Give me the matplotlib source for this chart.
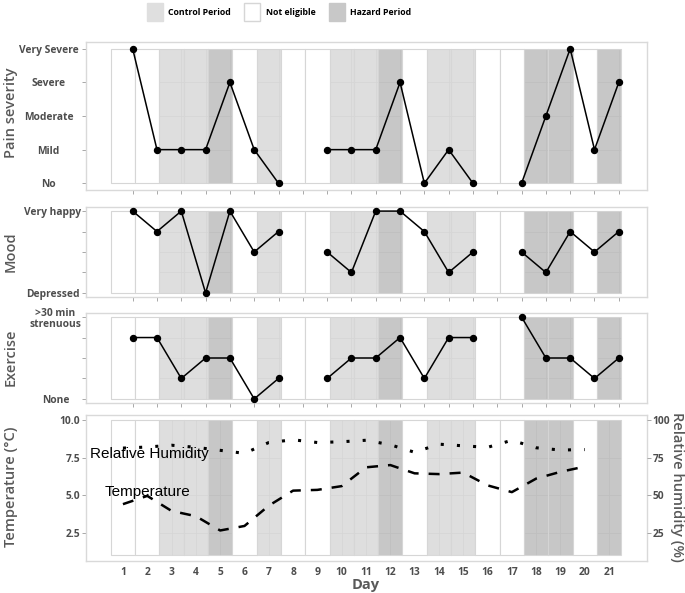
import numpy as np
import matplotlib.pyplot as plt
from matplotlib.patches import Patch, Rectangle

# study days and what kind of period each one was
days = np.arange(1, 22)
period = ["ne", "ne", "ctrl", "ctrl", "haz", "ne", "ctrl", "ne", "ne", "ctrl", "ctrl",
          "haz", "ne", "ctrl", "ctrl", "ne", "ne", "haz", "haz", "ne", "haz"]

# diary scores (0 = lowest level)
pain = [4, 1, 1, 1, 3, 1, 0, np.nan, 1, 1, 1, 3, 0, 1, 0, np.nan, 0, 2, 4, 1, 3]
mood = [4, 3, 4, 0, 4, 2, 3, np.nan, 2, 1, 4, 4, 3, 1, 2, np.nan, 2, 1, 3, 2, 3]
exercise = [3, 3, 1, 2, 2, 0, 1, np.nan, 1, 2, 2, 3, 1, 3, 3, np.nan, 4, 2, 2, 1, 2]

pain_labels = ["No", "Mild", "Moderate", "Severe", "Very Severe"]
mood_labels = ["Depressed", "", "", "", "Very happy"]
exercise_labels = ["None", "", "", "", ">30 min\nstrenuous"]

# daily weather
weather_days = np.arange(1, 21)
temperature = [4.4, 4.95, 3.95, 3.6, 2.65, 2.95, 4.3, 5.3, 5.35, 5.6,
               6.85, 7.0, 6.45, 6.4, 6.5, 5.65, 5.2, 6.1, 6.55, 6.9]
humidity = [81.3, 82.0, 83.2, 81.8, 79.8, 77.8, 85.0, 86.8, 85.0, 85.5,
            86.5, 83.5, 78.5, 83.9, 82.8, 81.8, 86.5, 81.5, 80.0, 80.3]

fills = {"ctrl": "#d9d9d9", "ne": "white", "haz": "#bebebe"}
alphas = {"ctrl": 0.85, "ne": 1.0, "haz": 0.85}

tick_col = "#4d4d4d"
title_col = "#595959"
plt.rcParams["font.family"] = ["Open Sans", "DejaVu Sans"]

fig = plt.figure(figsize=(6.85, 5.93), dpi=100)
W, H = 685, 593


def box(top, bottom):
    return [86 / W, 1 - bottom / H, 561 / W, (bottom - top) / H]


xlim = (-0.52, 22.56)
obs_shift = 0.4  # diary entries sit a bit after the day's midpoint


def shade(ax, y0, y1, xgrid, ygrid):
    # faint grid only inside the shaded block
    ax.vlines(xgrid, y0, y1, color="#c4c4c4", lw=0.6, zorder=0.5)
    ax.hlines(ygrid, 0.5, 21.5, color="#c4c4c4", lw=0.6, zorder=0.5)
    for d, p in zip(days, period):
        ax.add_patch(Rectangle((d - 0.5, y0), 1, y1 - y0, facecolor=fills[p],
                               alpha=alphas[p], edgecolor="#d6d6d6", lw=0.8, zorder=1))


def style(ax):
    for s in ax.spines.values():
        s.set_color("#d9d9d9")
        s.set_linewidth(1.0)
    ax.tick_params(colors="#9a9a9a", labelcolor=tick_col, length=3, width=0.6)


def score_panel(ax, values, labels, title, pad, title_y):
    style(ax)
    shade(ax, 0, 4, days + obs_shift, range(5))
    ax.plot(days + obs_shift, values, color="black", lw=1.1, marker="o", ms=4.3, zorder=3)
    ax.set_xlim(*xlim)
    ax.set_ylim(-0.2, 4.2)
    ax.set_xticks(days + obs_shift)
    ax.set_xticklabels([])
    ax.set_yticks(range(5))
    ax.set_yticklabels(labels, ha="center", fontsize=7.4, fontweight="bold",
                       linespacing=1.0)
    ax.tick_params(axis="y", pad=pad)
    fig.text(11 / W, 1 - title_y / H, title, rotation=90, ha="center", va="center",
             fontsize=10.5, color=title_col, fontweight="semibold")


ax1 = fig.add_axes(box(42, 190))
score_panel(ax1, pain, pain_labels, "Pain severity", 24, 113)
ax2 = fig.add_axes(box(207, 297))
score_panel(ax2, mood, mood_labels, "Mood", 21, 252)
ax3 = fig.add_axes(box(313, 403))
score_panel(ax3, exercise, exercise_labels, "Exercise", 19, 357)

ax4 = fig.add_axes(box(415, 561))
style(ax4)
shade(ax4, 1, 10, days, [2.5, 5.0, 7.5, 10.0])
ax4.plot(weather_days, temperature, color="black", lw=1.8,
         linestyle=(0, (4.4, 4.0)), dash_capstyle="butt", zorder=3)
ax4.plot(weather_days, np.array(humidity) / 10, color="black", lw=2.2,
         linestyle=(0, (1, 4.3)), dash_capstyle="butt", zorder=3)
ax4.set_xlim(*xlim)
ax4.set_ylim(0.62, 10.33)
ax4.set_xticks(days)
ax4.set_xticklabels([str(d) for d in days], fontsize=7.4, fontweight="bold")
ax4.tick_params(axis="x", length=0, pad=4)
ax4.set_yticks([2.5, 5.0, 7.5, 10.0])
ax4.set_yticklabels(["2.5", "5.0", "7.5", "10.0"], fontsize=7.4, fontweight="bold")
ax4.tick_params(axis="y", pad=1)
ax4.text(2.1, 7.75, "Relative Humidity", family="Liberation Sans",
         fontsize=11, ha="center", va="center", zorder=4)
ax4.text(2.0, 5.2, "Temperature", family="Liberation Sans",
         fontsize=11, ha="center", va="center", zorder=4)

rh = ax4.twinx()
rh.set_ylim(6.2, 103.3)
rh.set_yticks([25, 50, 75, 100])
rh.set_yticklabels(["25", "50", "75", "100"], fontsize=7.4, fontweight="bold")
rh.tick_params(colors="#9a9a9a", labelcolor=tick_col, length=3, width=0.6, pad=1)
for s in rh.spines.values():
    s.set_visible(False)

fig.text(11 / W, 1 - 487 / H, "Temperature (°C)", rotation=90, ha="center", va="center",
         fontsize=10.5, color=title_col, fontweight="semibold")
fig.text(677 / W, 1 - 487 / H, "Relative humidity (%)", rotation=270, ha="center",
         va="center", fontsize=10.5, color=title_col, fontweight="semibold")
fig.text(366 / W, 1 - 585 / H, "Day", ha="center", va="center", fontsize=10.5,
         color=title_col, fontweight="bold")

handles = [Patch(facecolor="#dfdfdf", edgecolor="#dfdfdf", label="Control Period"),
           Patch(facecolor="white", edgecolor="#d6d6d6", label="Not eligible"),
           Patch(facecolor="#c8c8c8", edgecolor="#c8c8c8", label="Hazard Period")]
fig.legend(handles=handles, loc="center", bbox_to_anchor=(279 / W, 1 - 12 / H), ncol=3,
           frameon=False, prop={"size": 6.3, "weight": "bold"}, handlelength=1.85,
           handleheight=2.7, handletextpad=0.6, columnspacing=1.5, borderpad=0)

fig.savefig("out.png", dpi=100)
